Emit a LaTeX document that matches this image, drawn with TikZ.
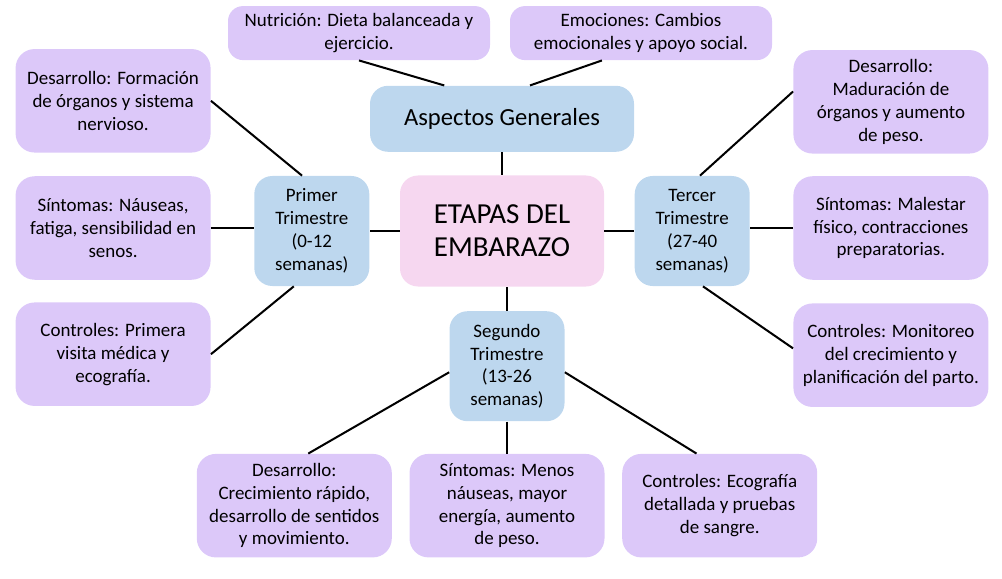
\documentclass[tikz,border=0pt]{standalone}
\usepackage{fontspec}
\setmainfont{Carlito}
\usetikzlibrary{positioning}
\definecolor{lila}{RGB}{220,200,249}
\definecolor{celeste}{RGB}{189,215,238}
\definecolor{rosa}{RGB}{246,215,240}
\newcommand{\Tsem}{semanas)}
\tikzstyle{detalle} = [rectangle, rounded corners=0.38cm, fill=lila, align=center, inner sep=2pt, minimum width=3.9cm, minimum height=2.07cm, font=\fontsize{10.8}{13}\selectfont]
\tikzstyle{tema} = [detalle, rounded corners=0.3cm, minimum width=5.24cm, minimum height=1.08cm]
\tikzstyle{trim} = [rectangle, rounded corners=0.36cm, fill=celeste, align=center, inner sep=2pt, minimum width=2.3cm, minimum height=2.2cm, font=\fontsize{10.8}{13}\selectfont]
\tikzstyle{enlace} = [draw=black, line width=1.15pt]

\begin{document}
\begin{tikzpicture}[node distance=0.5cm]
\useasboundingbox (0,0) rectangle (20.04,-11.58);

% Define nodes
\node[trim, fill=rosa, minimum width=4.08cm, minimum height=2.22cm, font=\fontsize{16.5}{18.7}\selectfont] (e) at (10.04,-4.62) {ETAPAS DEL\\EMBARAZO};
\node[trim, above = 0.46cm of e, minimum width=5.28cm, minimum height=1.32cm, font=\fontsize{14}{16}\selectfont] (g) {Aspectos Generales};
\node[tema, above = 0.5cm of g, xshift=-2.86cm] (n) {Nutrición: Dieta balanceada y\\ejercicio.};
\node[tema, above = 0.5cm of g, xshift=2.78cm]  (m) {Emociones: Cambios\\emocionales y apoyo social.};

\node[trim, left  = 0.6cm of e]                 (t1) {Primer\\Trimestre\\(0-12\\\Tsem};
\node[trim, right = 0.6cm of e]                 (t3) {Tercer\\Trimestre\\(27-40\\\Tsem};
\node[trim, below = 0.48cm of e, xshift=0.1cm]  (t2) {Segundo\\Trimestre\\(13-26\\\Tsem};

\node[detalle, left = 0.86cm of t1, yshift=0.06cm] (s1) {Síntomas: Náuseas,\\fatiga, sensibilidad en\\senos.};
\node[detalle, above = 0.46cm of s1]               (d1) {Desarrollo: Formación\\de órganos y sistema\\nervioso.};
\node[detalle, below = 0.44cm of s1]               (c1) {Controles: Primera\\visita médica y\\ecografía.};

\node[detalle, right = 0.86cm of t3, yshift=0.06cm] (s3) {Síntomas: Malestar\\físico, contracciones\\preparatorias.};
\node[detalle, above = 0.44cm of s3]                (d3) {Desarrollo:\\Maduración de\\órganos y aumento\\de peso.};
\node[detalle, below = 0.46cm of s3]                (c3) {Controles: Monitoreo\\del crecimiento y\\planificación del parto.};

\node[detalle, below = 0.64cm of t2] (s2) {Síntomas: Menos\\náuseas, mayor\\energía, aumento\\de peso.};
\node[detalle, left  = 0.34cm of s2] (d2) {Desarrollo:\\Crecimiento rápido,\\desarrollo de sentidos\\y movimiento.};
\node[detalle, right = 0.34cm of s2] (c2) {Controles: Ecografía\\detallada y pruebas\\de sangre.};

% Edges
\draw[enlace] (n.south) -- (g.150);
\draw[enlace] (m.215) -- (g.50);
\draw[enlace] (g.south) -- (e.north);
\draw[enlace] (e.west) -- (t1.east);
\draw[enlace] (e.east) -- (t3.west);
\draw[enlace] (t2.north) -- (t2.north |- e.south);

\draw[enlace] (t1.100) -- (d1.east);
\draw[enlace] (s1.east) -- (s1.east -| t1.west);
\draw[enlace] (t1.252) -- (c1.east);

\draw[enlace] (t3.82) -- (d3.174);
\draw[enlace] (s3.west) -- (s3.west -| t3.east);
\draw[enlace] (t3.281) -- (c3.176);

\draw[enlace] (t2.186) -- (d2.75);
\draw[enlace] (t2.south) -- (s2.north);
\draw[enlace] (t2.354) -- (c2.114);
\end{tikzpicture}
\end{document}
